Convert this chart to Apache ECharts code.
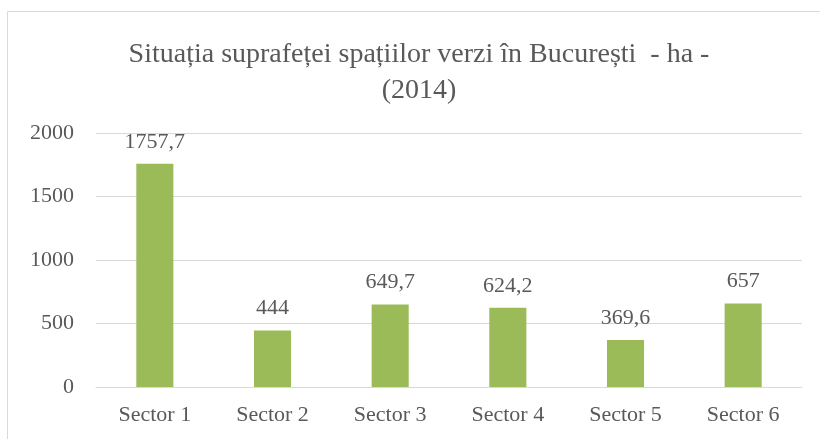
<!DOCTYPE html>
<html>
<head>
<meta charset="utf-8">
<script src="https://cdn.jsdelivr.net/npm/echarts@6/dist/echarts.min.js"></script>
<style>
  html, body { margin: 0; padding: 0; background: #fff; }
  #chart { width: 820px; height: 439px; }
</style>
</head>
<body>
<div id="chart"></div>
<script>
var sectors = ['Sector 1', 'Sector 2', 'Sector 3', 'Sector 4', 'Sector 5', 'Sector 6'];
var greenArea = [1757.7, 444, 649.7, 624.2, 369.6, 657];
var yTicks = [0, 500, 1000, 1500, 2000];

var font = '"Liberation Serif", "DejaVu Serif", serif';
var textColor = '#595959';

var chart = echarts.init(document.getElementById('chart'), null, { renderer: 'canvas' });
chart.setOption({
  animation: false,
  title: {
    text: 'Situația suprafeței spațiilor verzi în București  - ha -\n(2014)',
    left: 414,
    top: 32,
    textAlign: 'center',
    textStyle: {
      fontFamily: font,
      fontSize: 28,
      fontWeight: 'normal',
      color: textColor,
      lineHeight: 36
    }
  },
  graphic: [{
    type: 'rect',
    shape: { x: 7.5, y: 11.5, width: 840, height: 460 },
    style: { fill: 'none', stroke: '#d9d9d9', lineWidth: 1 },
    silent: true
  }],
  grid: { left: 96, right: 18, top: 133, bottom: 52, containLabel: false },
  xAxis: {
    type: 'category',
    data: sectors,
    axisLine: { lineStyle: { color: '#d9d9d9', width: 1 } },
    axisTick: { show: false },
    axisLabel: { fontFamily: font, fontSize: 22, color: textColor, margin: 17 }
  },
  yAxis: {
    type: 'value',
    min: yTicks[0],
    max: yTicks[yTicks.length - 1],
    interval: 500,
    axisLine: { show: false },
    axisTick: { show: false },
    splitLine: { lineStyle: { color: '#d9d9d9', width: 1 } },
    axisLabel: {
      fontFamily: font, fontSize: 22, color: textColor, margin: 22,
      formatter: function (v) { return String(v); }
    }
  },
  series: [{
    type: 'bar',
    data: greenArea,
    barWidth: '31.5%',
    itemStyle: { color: '#9bbb59' },
    label: {
      show: true,
      position: 'top',
      distance: 11,
      fontFamily: font,
      fontSize: 22,
      color: textColor,
      formatter: function (p) { return String(p.value).replace('.', ','); }
    }
  }]
});
</script>
</body>
</html>
